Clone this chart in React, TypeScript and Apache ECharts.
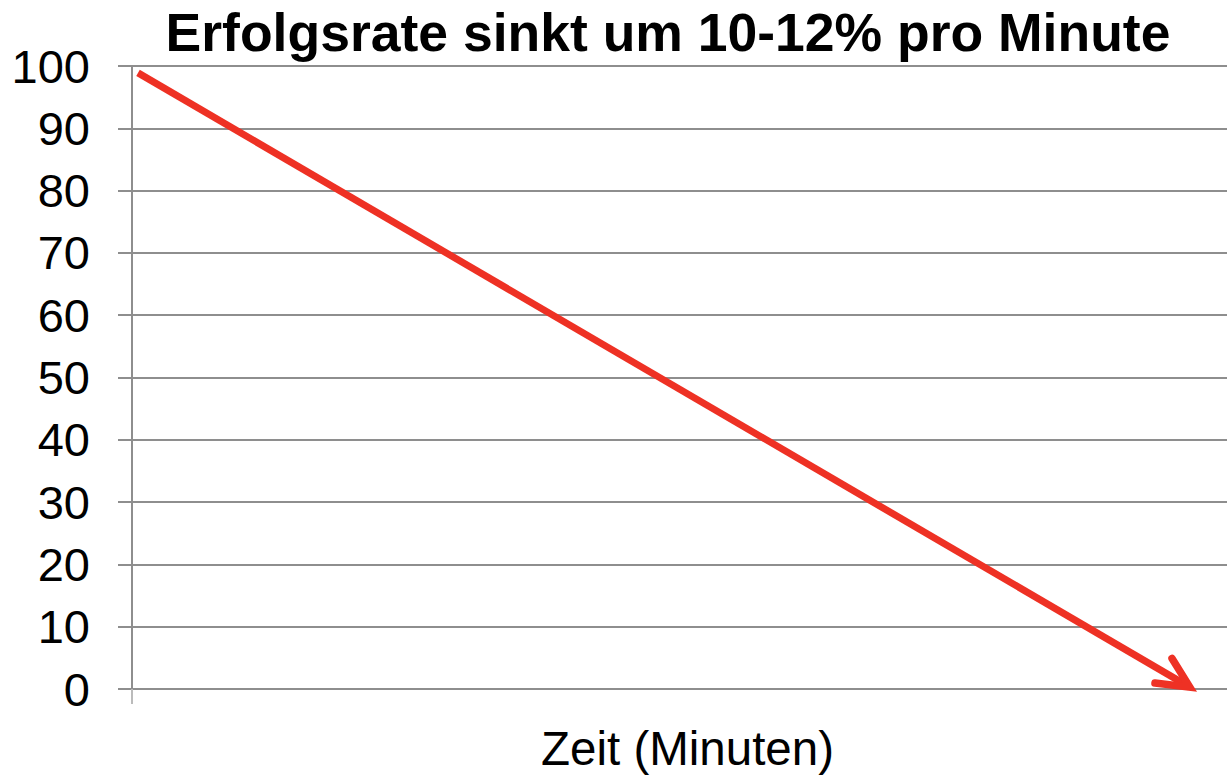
import React, { useEffect, useRef } from "react";
import * as echarts from "echarts";

const titleText = "Erfolgsrate sinkt um 10-12% pro Minute";
const xAxisName = "Zeit (Minuten)";
const yTicks = [0, 10, 20, 30, 40, 50, 60, 70, 80, 90, 100];
// trend arrow: start and tip (x in % of time span, y in success rate)
const arrowStart = [0.55, 98.9];
const arrowTip = [96.6, 0.3];
// arrowhead arm ends
const arrowArmA = [94.98, 4.9];
const arrowArmB = [93.42, 0.95];

const RED = "#EE3124";
const GRID = "#8e8e8e";
const FONT = "'Liberation Sans', Arial, Helvetica, sans-serif";

export default function App() {
  const ref = useRef<HTMLDivElement>(null);
  useEffect(() => {
    if (!ref.current) return;
    const chart = echarts.init(ref.current, null, { renderer: "svg" });
    chart.setOption({
      animation: false,
      title: {
        text: titleText,
        left: 663,
        textAlign: "center",
        top: 0,
        textStyle: { fontFamily: FONT, fontSize: 53.5, fontWeight: "bold", color: "#000" },
      },
      grid: { left: 132, right: 0, top: 66, bottom: 84, containLabel: false },
      xAxis: {
        type: "value",
        min: 0,
        max: 100,
        interval: 100,
        name: xAxisName,
        nameLocation: "middle",
        nameGap: 35,
        nameTextStyle: { fontFamily: FONT, fontSize: 47.5, color: "#000", padding: [0, 0, 0, 16] },
        axisLine: { show: true, lineStyle: { color: GRID, width: 2 } },
        axisTick: { show: true, customValues: [0], length: 15, lineStyle: { color: "#bbb", width: 2 } },
        axisLabel: { show: false },
        splitLine: { show: false },
      },
      yAxis: {
        type: "value",
        min: yTicks[0],
        max: yTicks[yTicks.length - 1],
        interval: 10,
        axisLine: { show: true, lineStyle: { color: GRID, width: 2 } },
        axisTick: { show: true, length: 14, lineStyle: { color: GRID, width: 2 } },
        axisLabel: { margin: 42, fontFamily: FONT, fontSize: 47, color: "#000" },
        splitLine: { show: true, lineStyle: { color: GRID, width: 2 } },
      },
      series: [
        {
          type: "line",
          data: [arrowStart, arrowTip],
          symbol: "none",
          lineStyle: { color: RED, width: 7, cap: "butt" },
          z: 5,
        },
        {
          type: "line",
          data: [arrowArmA, arrowTip, arrowArmB],
          symbol: "none",
          lineStyle: { color: RED, width: 7.5, cap: "round", join: "miter" },
          z: 6,
        },
      ],
    });
    return () => chart.dispose();
  }, []);
  return (
    <div
      ref={ref}
      style={{ position: "absolute", left: 0, top: 0, width: 1227, height: 777, background: "#fff" }}
    />
  );
}
